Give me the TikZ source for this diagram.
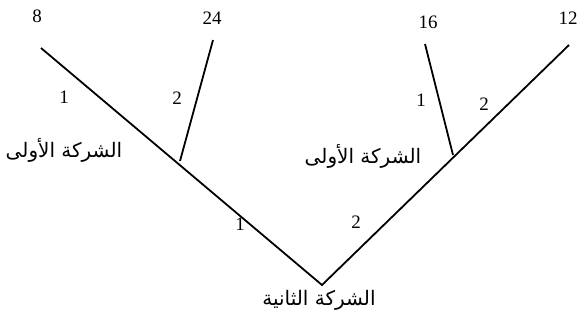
\documentclass[tikz,border=0pt]{standalone}
\usepackage{fontspec}
\setmainfont{Liberation Serif}
\newfontfamily\arabicfont[Script=Arabic]{DejaVu Sans}
\TeXXeTstate=1
\begin{document}
\begin{tikzpicture}[x=1pt,y=-1pt,
  num/.style={font=\fontsize{19}{21}\selectfont, inner sep=0pt},
  ar/.style={font=\arabicfont\fontsize{20}{23}\selectfont, inner sep=0pt},
  branch/.style={line width=1.8pt}]
\useasboundingbox (0,0) rectangle (577,330);
\coordinate (b) at (322,285);
\coordinate (e8) at (41,48);
\coordinate (jl) at (180,161);
\coordinate (e24) at (213,40);
\coordinate (e12) at (569,45);
\coordinate (jr) at (453,155);
\coordinate (e16) at (425,44);
\draw[branch] (e8) -- (b) -- (e12);
\draw[branch] (e24) -- (jl);
\draw[branch] (e16) -- (jr);
\node[num] (n8) at (37,16) {8};
\node[num] (n24) at (212,18) {24};
\node[num] (n16) at (428,22) {16};
\node[num] (n12) at (568,18) {12};
\node[num] (l1a) at (64,97) {1};
\node[num] (l2a) at (177,98) {2};
\node[num] (l1b) at (421,100) {1};
\node[num] (l2b) at (484,104) {2};
\node[num] (l1c) at (240,224) {1};
\node[num] (l2c) at (356,222) {2};
\node[ar] (arl) at (64,150) {\beginR الشركة الأولى\endR};
\node[ar] (arr) at (363,156) {\beginR الشركة الأولى\endR};
\node[ar] (arb) at (319,300) {\beginR الشركة الثانية\endR};
\end{tikzpicture}
\end{document}
